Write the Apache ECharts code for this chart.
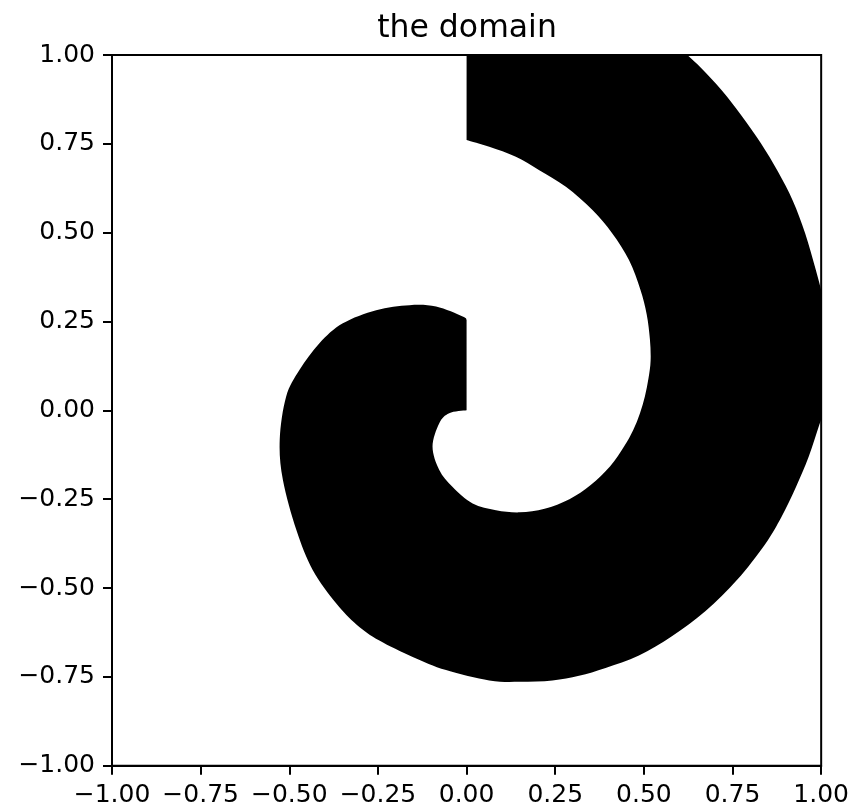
<!DOCTYPE html>
<html>
<head>
<meta charset="utf-8">
<title>the domain</title>
<script src="https://cdn.jsdelivr.net/npm/echarts@6/dist/echarts.min.js"></script>
<style>
  html, body { margin: 0; padding: 0; background: #fff; }
  #chart { width: 852px; height: 810px; }
</style>
</head>
<body>
<div id="chart"></div>
<script>
// Axis ticks (both axes share the same range)
var tickValues = [-1.0, -0.75, -0.5, -0.25, 0.0, 0.25, 0.5, 0.75, 1.0];

// Outer rim of the spiral arm, traced clockwise from the top edge
var outerEdge = [
  [0.600, 1.02], [0.660, 0.965], [0.720, 0.900], [0.775, 0.830], [0.830, 0.752],
  [0.878, 0.672], [0.920, 0.590], [0.955, 0.498], [0.985, 0.395], [1.010, 0.300],
  [1.030, 0.220], [1.040, 0.150], [1.025, 0.050], [0.995, -0.040], [0.965, -0.130],
  [0.928, -0.218], [0.888, -0.300], [0.841, -0.378], [0.763, -0.477], [0.674, -0.565],
  [0.580, -0.635], [0.486, -0.690], [0.392, -0.725], [0.317, -0.747], [0.242, -0.760],
  [0.150, -0.764], [0.064, -0.760], [-0.058, -0.731], [-0.152, -0.694], [-0.246, -0.648],
  [-0.310, -0.603], [-0.368, -0.543], [-0.434, -0.449], [-0.480, -0.337], [-0.518, -0.196],
  [-0.527, -0.083], [-0.509, 0.038], [-0.471, 0.114], [-0.415, 0.189], [-0.349, 0.245],
  [-0.255, 0.282], [-0.161, 0.296], [-0.086, 0.292], [-0.011, 0.264], [0.0, 0.254]
];

// Inner rim, traced from the centre outwards back to the top cut
var innerEdge = [
  [0.0, 0.0], [-0.049, -0.008], [-0.077, -0.036], [-0.096, -0.102], [-0.077, -0.168],
  [-0.040, -0.215], [0.017, -0.262], [0.083, -0.281], [0.150, -0.287], [0.220, -0.277],
  [0.290, -0.250], [0.350, -0.210], [0.405, -0.157], [0.444, -0.102], [0.470, -0.055],
  [0.489, -0.008], [0.503, 0.040], [0.513, 0.090], [0.519, 0.140], [0.517, 0.200],
  [0.508, 0.270], [0.490, 0.340], [0.458, 0.423], [0.411, 0.498], [0.355, 0.564],
  [0.280, 0.629], [0.205, 0.676], [0.139, 0.714], [0.064, 0.742], [0.0, 0.761]
];

function fmt(v) {
  var s = Math.abs(v).toFixed(2);
  return v < 0 ? '\u2212' + s : s;
}

// Smooth open curve through pixel points (Catmull-Rom written as cubic Béziers)
function curveCommands(pts) {
  var out = [];
  for (var i = 0; i < pts.length - 1; i++) {
    var p0 = pts[Math.max(i - 1, 0)], p1 = pts[i], p2 = pts[i + 1], p3 = pts[Math.min(i + 2, pts.length - 1)];
    var c1 = [p1[0] + (p2[0] - p0[0]) / 6, p1[1] + (p2[1] - p0[1]) / 6];
    var c2 = [p2[0] - (p3[0] - p1[0]) / 6, p2[1] - (p3[1] - p1[1]) / 6];
    out.push('C' + c1[0].toFixed(2) + ' ' + c1[1].toFixed(2) + ' ' + c2[0].toFixed(2) + ' ' +
      c2[1].toFixed(2) + ' ' + p2[0].toFixed(2) + ' ' + p2[1].toFixed(2));
  }
  return out.join(' ');
}

var FONT = '"DejaVu Sans", sans-serif';

var axisCommon = {
  type: 'value',
  min: -1,
  max: 1,
  interval: 0.25,
  axisLine: { show: true, onZero: false, lineStyle: { color: '#000', width: 2 } },
  axisTick: { show: true, inside: false, length: 9, lineStyle: { color: '#000', width: 2 } },
  splitLine: { show: false },
  axisLabel: {
    show: true,
    color: '#000',
    fontFamily: FONT,
    fontSize: 25,
    margin: 17,
    formatter: function (v) { return fmt(v); },
    customValues: tickValues
  }
};

var chart = echarts.init(document.getElementById('chart'), null, { renderer: 'canvas' });

chart.setOption({
  animation: false,
  backgroundColor: '#fff',
  title: {
    text: 'the domain',
    left: 462,
    textAlign: 'center',
    top: 8,
    textStyle: { color: '#000', fontFamily: FONT, fontSize: 31.5, fontWeight: 'normal' }
  },
  grid: {
    left: 112,
    right: 29.5,
    top: 55,
    bottom: 44.3,
    show: true,
    borderColor: '#000',
    borderWidth: 2,
    backgroundColor: 'transparent'
  },
  xAxis: Object.assign({}, axisCommon, { position: 'bottom' }),
  yAxis: Object.assign({}, axisCommon, { position: 'left' }),
  series: [{
    type: 'custom',
    name: 'domain',
    clip: true,
    silent: true,
    data: [0],
    renderItem: function (params, api) {
      var outer = outerEdge.map(function (p) { return api.coord(p); });
      var inner = innerEdge.map(function (p) { return api.coord(p); });
      var d = 'M' + outer[0][0] + ' ' + outer[0][1] + ' ' + curveCommands(outer) +
        ' L' + inner[0][0] + ' ' + inner[0][1] + ' ' + curveCommands(inner) +
        ' L' + inner[inner.length - 1][0] + ' ' + api.coord([0, 1.02])[1] + ' Z';
      return {
        type: 'path',
        shape: { pathData: d },
        style: { fill: '#000', stroke: null }
      };
    },
    z: 1
  }]
});
</script>
</body>
</html>
